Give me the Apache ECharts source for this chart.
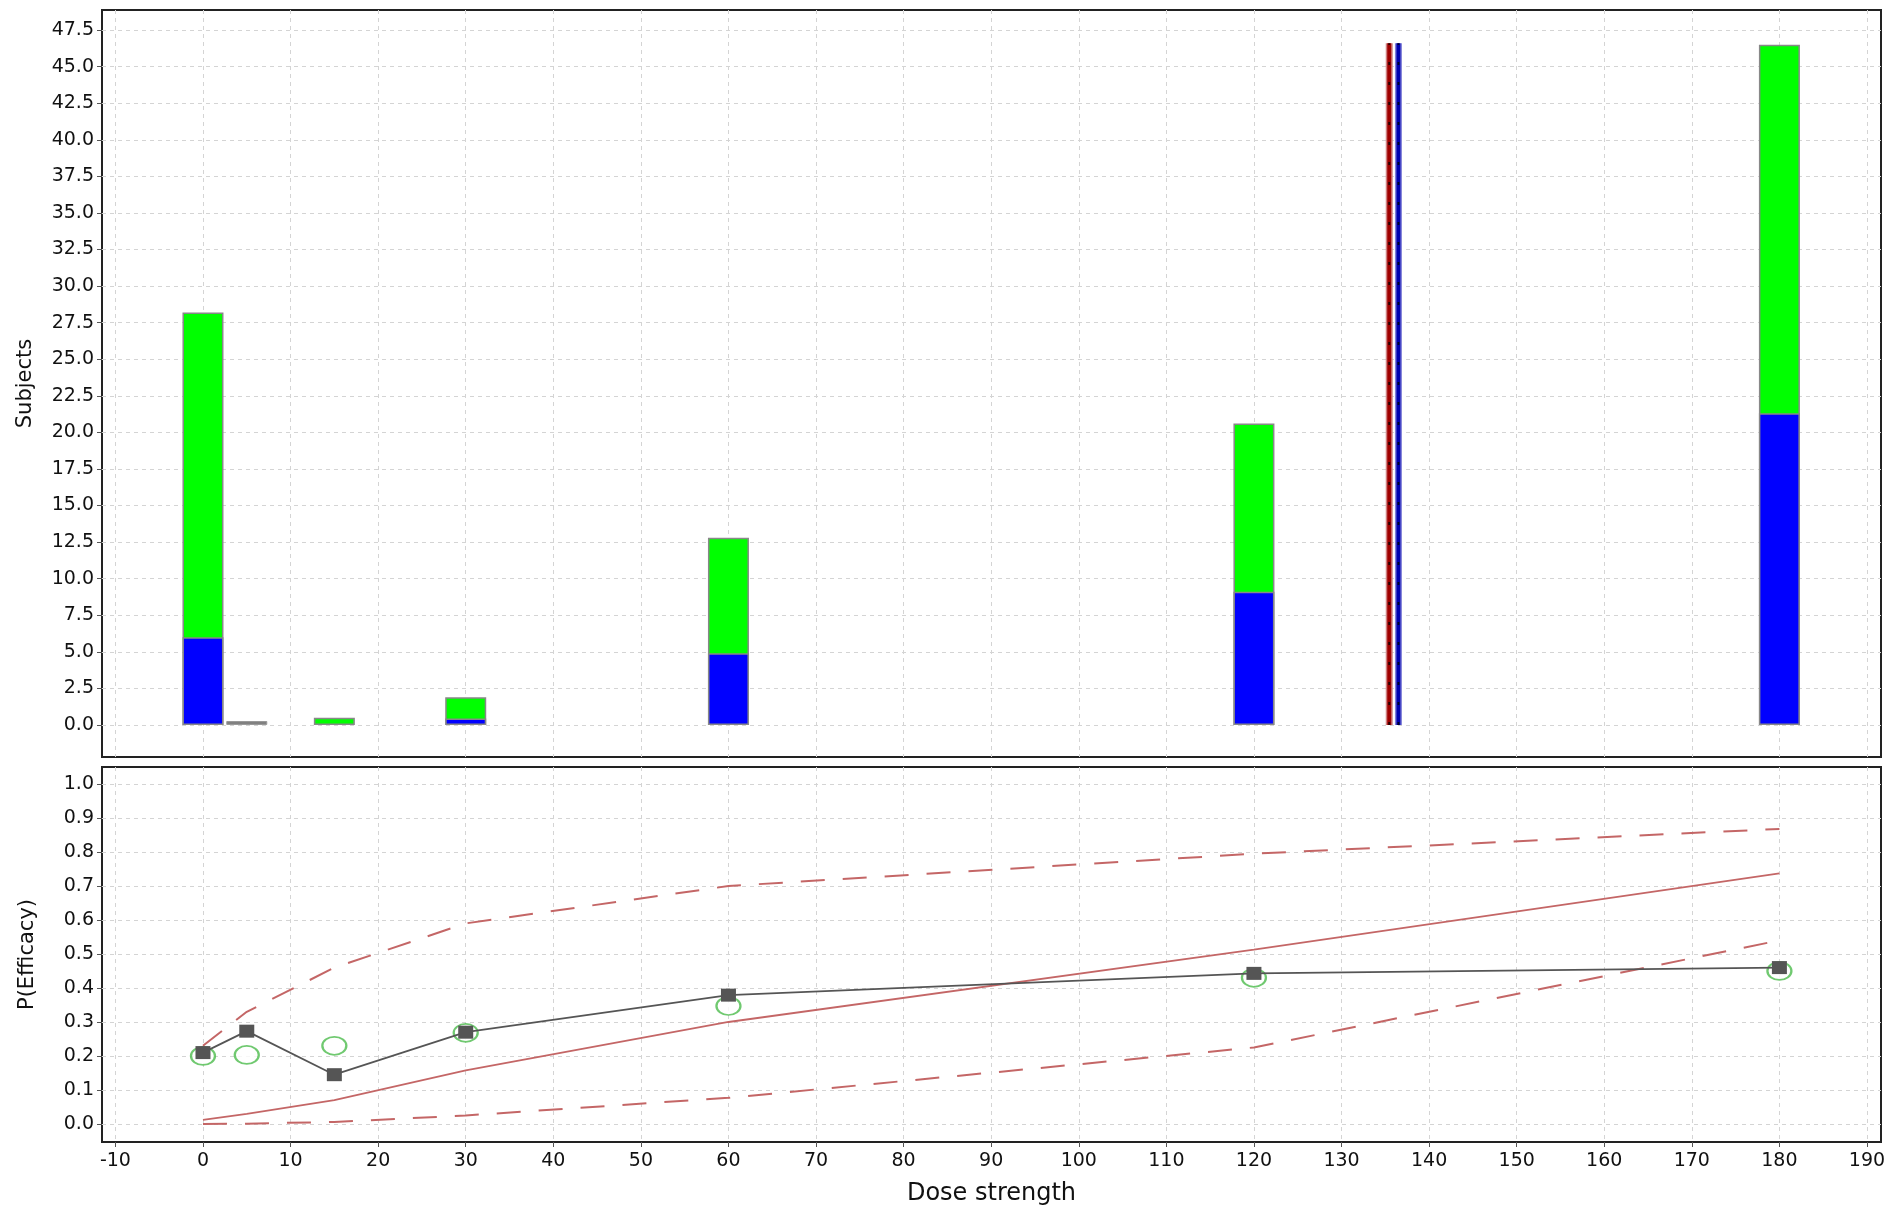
<!DOCTYPE html>
<html>
<head>
    <meta charset="UTF-8">
    <title>Subjects and P(Efficacy) by dose strength</title>
    <script src="https://cdn.jsdelivr.net/npm/echarts@6/dist/echarts.min.js"></script>
</head>
<body style="margin: 0;overflow: hidden;background: #fff">
<div id="chart" style="width: 1889px;height: 1207px"></div>
<script type="text/javascript">
    // subjects per dose (blue part + green part)
    var barDoses = [0, 5, 15, 30, 60, 120, 180];
    var blueCounts = [6.0, null, null, 0.45, 4.9, 9.1, 21.3];
    var greenCounts = [22.2, null, 0.5, 1.45, 7.9, 11.5, 25.2];
    var grayCounts = [null, 0.27, null, null, null, null, null];

    // the two vertical reference doses
    var redDose = 135.45;
    var blueDose = 136.5;
    var doseLineTop = 46.6;

    // efficacy curves
    var curveDoses = [0, 5, 15, 30, 60, 120, 180];
    var upperBand = [0.23, 0.33, 0.46, 0.59, 0.70, 0.795, 0.868];
    var medianCurve = [0.012, 0.03, 0.07, 0.158, 0.30, 0.513, 0.737];
    var lowerBand = [0.0, 0.001, 0.006, 0.025, 0.077, 0.225, 0.54];
    var fittedP = [0.21, 0.273, 0.145, 0.27, 0.379, 0.443, 0.46];
    var observedP = [0.20, 0.203, 0.23, 0.268, 0.347, 0.43, 0.45];

    // tick labels
    var doseTicks = [-10, 0, 10, 20, 30, 40, 50, 60, 70, 80, 90, 100, 110, 120, 130, 140, 150, 160, 170, 180, 190];
    var subjectTicks = [0, 2.5, 5, 7.5, 10, 12.5, 15, 17.5, 20, 22.5, 25, 27.5, 30, 32.5, 35, 37.5, 40, 42.5, 45, 47.5];
    var effTicks = [0, 0.1, 0.2, 0.3, 0.4, 0.5, 0.6, 0.7, 0.8, 0.9, 1.0];

    function pairs(xs, ys) {
        var out = [];
        for (var i = 0; i < xs.length; i++) {
            out.push([xs[i], ys[i]]);
        }
        return out;
    }

    // green bar is drawn as the full height, blue drawn over its lower part
    var totalCounts = [];
    for (var i = 0; i < barDoses.length; i++) {
        if (greenCounts[i] == null) {
            totalCounts.push(null);
        } else {
            totalCounts.push((blueCounts[i] || 0) + greenCounts[i]);
        }
    }

    var font = 'DejaVu Sans';
    var textColor = '#111';
    var gridLine = {show: true, lineStyle: {color: '#d4d4d4', type: [4, 4], width: 1}};
    var red = '#c46666';

    var chart = echarts.init(document.getElementById('chart'), null, {renderer: 'canvas'});
    chart.setOption({
        animation: false,
        backgroundColor: '#fff',
        textStyle: {fontFamily: font},
        grid: [
            {left: 102, top: 10, width: 1779, height: 747, show: true, borderColor: '#222', borderWidth: 2, outerBoundsMode: 'none'},
            {left: 102, top: 767, width: 1779, height: 375, show: true, borderColor: '#222', borderWidth: 2, outerBoundsMode: 'none'}
        ],
        xAxis: [
            {
                type: 'value', gridIndex: 0, min: -11.53, max: 191.6,
                axisLine: {show: false, onZero: false},
                axisTick: {show: false, customValues: doseTicks},
                axisLabel: {show: false, customValues: doseTicks},
                splitLine: gridLine
            },
            {
                type: 'value', gridIndex: 1, min: -11.53, max: 191.6,
                name: 'Dose strength', nameLocation: 'middle', nameGap: 40,
                nameTextStyle: {fontSize: 24, color: textColor, fontFamily: font},
                axisLine: {show: false, onZero: false},
                axisTick: {show: true, length: 5, customValues: doseTicks, lineStyle: {color: '#555'}},
                axisLabel: {fontSize: 19, color: textColor, margin: 10, customValues: doseTicks, fontFamily: font},
                splitLine: gridLine
            }
        ],
        yAxis: [
            {
                type: 'value', gridIndex: 0, min: -2.19, max: 48.87,
                name: 'Subjects', nameLocation: 'middle', nameGap: 66,
                nameTextStyle: {fontSize: 21, color: textColor, fontFamily: font},
                axisLine: {show: false, onZero: false},
                axisTick: {show: true, length: 5, customValues: subjectTicks, lineStyle: {color: '#555'}},
                axisLabel: {
                    fontSize: 19, color: textColor, margin: 8, customValues: subjectTicks, fontFamily: font,
                    formatter: function (v) { return v.toFixed(1); }
                },
                splitLine: gridLine
            },
            {
                type: 'value', gridIndex: 1, min: -0.053, max: 1.05,
                name: 'P(Efficacy)', nameLocation: 'middle', nameGap: 64,
                nameTextStyle: {fontSize: 21, color: textColor, fontFamily: font},
                axisLine: {show: false, onZero: false},
                axisTick: {show: true, length: 5, customValues: effTicks, lineStyle: {color: '#555'}},
                axisLabel: {
                    fontSize: 19, color: textColor, margin: 8, customValues: effTicks, fontFamily: font,
                    formatter: function (v) { return v.toFixed(1); }
                },
                splitLine: gridLine
            }
        ],
        series: [
            {
                name: 'green', type: 'bar', xAxisIndex: 0, yAxisIndex: 0,
                barWidth: 41, barGap: '-100%', data: pairs(barDoses, totalCounts),
                itemStyle: {color: '#00ff00', borderColor: '#888', borderWidth: 1.5}
            },
            {
                name: 'blue', type: 'bar', xAxisIndex: 0, yAxisIndex: 0,
                barWidth: 41, barGap: '-100%', data: pairs(barDoses, blueCounts),
                itemStyle: {color: '#0000ff', borderColor: '#888', borderWidth: 1.5}
            },
            {
                name: 'gray', type: 'bar', xAxisIndex: 0, yAxisIndex: 0,
                barWidth: 41, barGap: '-100%', data: pairs(barDoses, grayCounts),
                itemStyle: {color: '#808080', borderColor: '#999', borderWidth: 1}
            },
            {
                type: 'line', xAxisIndex: 0, yAxisIndex: 0, symbol: 'none',
                data: [[redDose, 0], [redDose, doseLineTop]],
                lineStyle: {color: '#d08080', width: 7}
            },
            {
                type: 'line', xAxisIndex: 0, yAxisIndex: 0, symbol: 'none',
                data: [[redDose, 0], [redDose, doseLineTop]],
                lineStyle: {color: '#a00000', width: 4}
            },
            {
                type: 'line', xAxisIndex: 0, yAxisIndex: 0, symbol: 'none',
                data: [[redDose, 0], [redDose, doseLineTop]],
                lineStyle: {color: '#2a0000', width: 2, type: [3, 17]}
            },
            {
                type: 'line', xAxisIndex: 0, yAxisIndex: 0, symbol: 'none',
                data: [[blueDose, 0], [blueDose, doseLineTop]],
                lineStyle: {color: '#8080d8', width: 7}
            },
            {
                type: 'line', xAxisIndex: 0, yAxisIndex: 0, symbol: 'none',
                data: [[blueDose, 0], [blueDose, doseLineTop]],
                lineStyle: {color: '#0000b0', width: 4}
            },
            {
                type: 'line', xAxisIndex: 0, yAxisIndex: 0, symbol: 'none',
                data: [[blueDose, 0], [blueDose, doseLineTop]],
                lineStyle: {color: '#00002a', width: 2, type: [3, 17]}
            },
            {
                type: 'line', xAxisIndex: 1, yAxisIndex: 1, symbol: 'none',
                data: pairs(curveDoses, upperBand),
                lineStyle: {color: red, width: 2, type: [24, 18]}
            },
            {
                type: 'line', xAxisIndex: 1, yAxisIndex: 1, symbol: 'none',
                data: pairs(curveDoses, medianCurve),
                lineStyle: {color: red, width: 1.8}
            },
            {
                type: 'line', xAxisIndex: 1, yAxisIndex: 1, symbol: 'none',
                data: pairs(curveDoses, lowerBand),
                lineStyle: {color: red, width: 2, type: [24, 18]}
            },
            {
                type: 'scatter', xAxisIndex: 1, yAxisIndex: 1,
                symbol: 'emptyCircle', symbolSize: [24, 18],
                data: pairs(barDoses, observedP),
                itemStyle: {color: '#4cbb4c', borderColor: '#4cbb4c', borderWidth: 1.6}
            },
            {
                type: 'line', xAxisIndex: 1, yAxisIndex: 1,
                symbol: 'rect', symbolSize: [15, 13], showSymbol: true,
                data: pairs(barDoses, fittedP),
                lineStyle: {color: '#555', width: 1.8},
                itemStyle: {color: '#555', borderWidth: 0},
                z: 5
            }
        ]
    });
</script>
</body>
</html>
